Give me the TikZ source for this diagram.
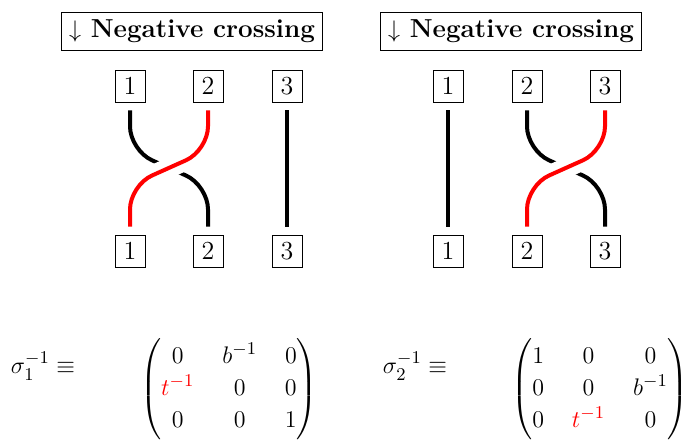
\documentclass[tikz,border=0pt]{standalone}
\usepackage{amsmath}
\usepackage{xcolor}
\usepackage{tikz}
\usetikzlibrary{positioning}

\setlength{\arraycolsep}{7pt}

\begin{document}
\begin{tikzpicture}[
  x=0.5pt, y=-0.5pt,
  font=\fontsize{13}{16}\selectfont,
  titlebox/.style={
    rectangle,
    draw,
    inner xsep=4pt,
    minimum height=19pt,
    font=\fontsize{13}{16}\selectfont\bfseries
  },
  strandbox/.style={
    rectangle,
    draw,
    minimum width=15pt,
    minimum height=16pt,
    inner sep=0pt
  },
  under/.style={
    line width=2pt,
    rounded corners=12pt,
    shorten <=4pt,
    shorten >=4pt
  },
  over/.style={
    under,
    draw=red,
    preaction={draw=white, line width=10pt}
  }
]
\useasboundingbox (0,0) rectangle (692,442);

% Titles
\node[titlebox] (tleft) at (192,31) {$\downarrow$ Negative crossing};
\node[titlebox] (tright) at (511,31) {$\downarrow$ Negative crossing};

% Left braid: strands 1 and 2 cross
\node[strandbox] (tl1) at (130,86) {1};
\node[strandbox] (tl2) at (208,86) {2};
\node[strandbox] (tl3) at (287,86) {3};
\node[strandbox] (bl1) at (130,251) {1};
\node[strandbox] (bl2) at (208,251) {2};
\node[strandbox] (bl3) at (287,251) {3};

\draw[under] (tl1.south) -- ++(0,48) -- ++(78,35) -- (bl2.north);
\draw[under] (tl3.south) -- (bl3.north);
\draw[over] (tl2.south) -- ++(0,48) -- ++(-78,35) -- (bl1.north);

% Right braid: strands 2 and 3 cross
\node[strandbox] (tr1) at (448,86) {1};
\node[strandbox] (tr2) at (527,86) {2};
\node[strandbox] (tr3) at (605,86) {3};
\node[strandbox] (br1) at (448,251) {1};
\node[strandbox] (br2) at (527,251) {2};
\node[strandbox] (br3) at (605,251) {3};

\draw[under] (tr1.south) -- (br1.north);
\draw[under] (tr2.south) -- ++(0,48) -- ++(78,35) -- (br3.north);
\draw[over] (tr3.south) -- ++(0,48) -- ++(-78,35) -- (br2.north);

% Matrices
\node (sig1) at (43,366) {$\sigma_1^{-1} \equiv$};
\node (mat1) at (229,389) {$\begin{pmatrix}
  0 & b^{-1} & 0\\
  \textcolor{red}{t^{-1}} & 0 & 0\\
  0 & 0 & 1
\end{pmatrix}$};

\node (sig2) at (415,366) {$\sigma_2^{-1} \equiv$};
\node (mat2) at (600,389) {$\begin{pmatrix}
  1 & 0 & 0\\
  0 & 0 & b^{-1}\\
  0 & \textcolor{red}{t^{-1}} & 0
\end{pmatrix}$};

\end{tikzpicture}
\end{document}
